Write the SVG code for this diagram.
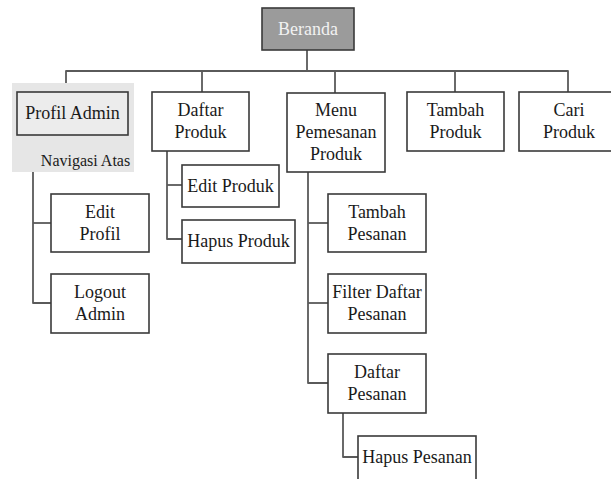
<svg xmlns="http://www.w3.org/2000/svg" width="611" height="479" viewBox="0 0 611 479">
<style>
  .box { fill: #ffffff; stroke: #3a3a3a; stroke-width: 1.6; }
  .t { font-family: 'Liberation Serif', 'Times New Roman', serif; font-size: 18px; fill: #1a1a1a; text-anchor: middle; }
  .con { fill: none; stroke: #5a5a5a; stroke-width: 1.8; stroke-linejoin: round; }
</style>
<rect width="611" height="479" fill="#ffffff"/>
<g id="connectors">
  <path class="con" d="M307 50 V71"/>
  <path class="con" d="M66 92 V71 H568 V92"/>
  <path class="con" d="M202 71 V92"/>
  <path class="con" d="M335 71 V93"/>
  <path class="con" d="M455 71 V92"/>
  <path class="con" d="M33 135 V303 H51"/>
  <path class="con" d="M33 223 H51"/>
  <path class="con" d="M167 151 V239 H182"/>
  <path class="con" d="M167 185 H182"/>
  <path class="con" d="M308 172 V383 H328"/>
  <path class="con" d="M308 223 H328"/>
  <path class="con" d="M308 303 H328"/>
  <path class="con" d="M343 413 V457 H358"/>
</g>
<g id="beranda">
  <rect x="262" y="8" width="92" height="42" fill="#9b9b9b" stroke="#3a3a3a" stroke-width="1.6"/>
  <text class="t" x="308" y="35" style="fill:#f2f2f2">Beranda</text>
</g>
<g id="navigasi-atas">
  <rect x="12" y="83" width="122" height="89" fill="#e6e6e6"/>
  <text class="t" x="85.5" y="166" style="font-size:16px">Navigasi Atas</text>
</g>
<g id="profil-admin">
  <rect x="17" y="92" width="111" height="43" fill="#ececec" stroke="#3a3a3a" stroke-width="1.6"/>
  <text class="t" x="72.5" y="119">Profil Admin</text>
</g>
<g id="daftar-produk">
  <rect class="box" x="152" y="92" width="97" height="59"/>
  <text class="t" x="200.5" y="116">Daftar</text>
  <text class="t" x="200.5" y="138">Produk</text>
</g>
<g id="menu-pemesanan">
  <rect class="box" x="287" y="93" width="98" height="79"/>
  <text class="t" x="336" y="116">Menu</text>
  <text class="t" x="336" y="138">Pemesanan</text>
  <text class="t" x="336" y="160">Produk</text>
</g>
<g id="tambah-produk">
  <rect class="box" x="407" y="92" width="97" height="59"/>
  <text class="t" x="455.5" y="116">Tambah</text>
  <text class="t" x="455.5" y="138">Produk</text>
</g>
<g id="cari-produk">
  <rect class="box" x="519" y="92" width="101" height="59"/>
  <text class="t" x="569" y="116">Cari</text>
  <text class="t" x="569" y="138">Produk</text>
</g>
<g id="edit-profil">
  <rect class="box" x="51" y="194" width="98" height="58"/>
  <text class="t" x="100" y="218">Edit</text>
  <text class="t" x="100" y="240">Profil</text>
</g>
<g id="logout-admin">
  <rect class="box" x="51" y="274" width="98" height="59"/>
  <text class="t" x="100" y="298">Logout</text>
  <text class="t" x="100" y="320">Admin</text>
</g>
<g id="edit-produk">
  <rect class="box" x="182" y="165" width="97" height="42"/>
  <text class="t" x="230.5" y="192">Edit Produk</text>
</g>
<g id="hapus-produk">
  <rect class="box" x="182" y="220" width="113" height="43"/>
  <text class="t" x="238.5" y="247">Hapus Produk</text>
</g>
<g id="tambah-pesanan">
  <rect class="box" x="328" y="194" width="98" height="58"/>
  <text class="t" x="377" y="218">Tambah</text>
  <text class="t" x="377" y="240">Pesanan</text>
</g>
<g id="filter-daftar-pesanan">
  <rect class="box" x="328" y="274" width="98" height="59"/>
  <text class="t" x="377" y="298">Filter Daftar</text>
  <text class="t" x="377" y="320">Pesanan</text>
</g>
<g id="daftar-pesanan">
  <rect class="box" x="328" y="354" width="98" height="59"/>
  <text class="t" x="377" y="378">Daftar</text>
  <text class="t" x="377" y="400">Pesanan</text>
</g>
<g id="hapus-pesanan">
  <rect class="box" x="358" y="436" width="118" height="44"/>
  <text class="t" x="417" y="463">Hapus Pesanan</text>
</g>
</svg>
